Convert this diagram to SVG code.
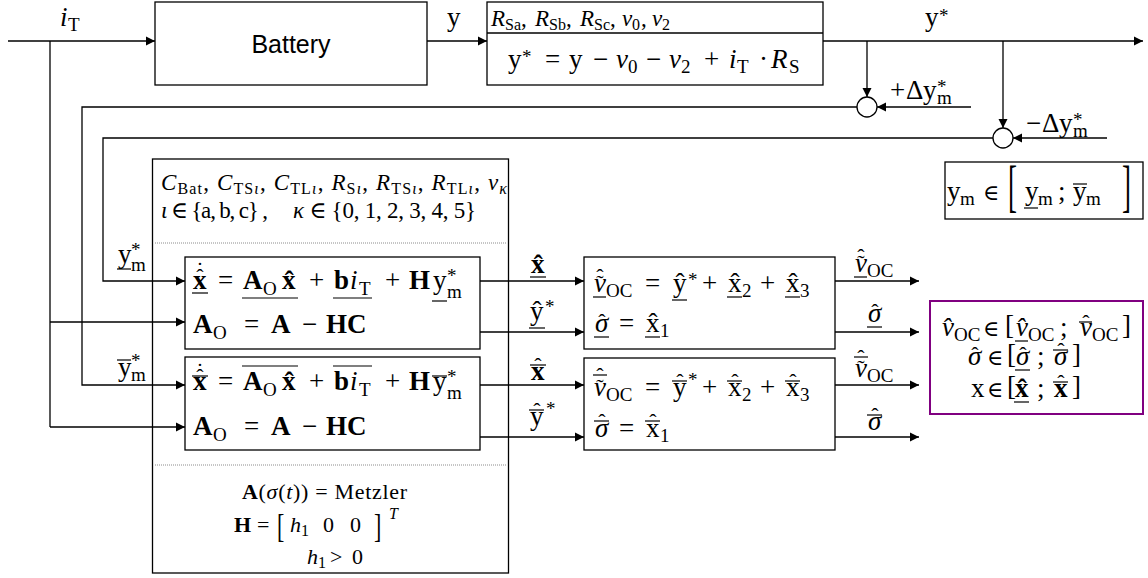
<svg xmlns="http://www.w3.org/2000/svg" width="1148" height="578" viewBox="0 0 1148 578">
<defs>
<style>
.t{font-family:"Liberation Serif","DejaVu Serif",serif;font-size:27px;fill:#000}
.i{font-style:italic}
.b{font-weight:bold}
.s{font-size:19px}
.p{font-size:16px}
.e{font-size:22px}
.a{font-size:22px;font-style:normal;font-weight:normal}
.bx{fill:#fff;stroke:#000;stroke-width:1.3}
.ln{fill:none;stroke:#000;stroke-width:1.3}
.ar{fill:none;stroke:#000;stroke-width:1.3;marker-end:url(#ah)}
.bar{stroke:#000;stroke-width:1.2}
.dt{stroke:#8c8c8c;stroke-width:1;stroke-dasharray:1 1}
.sans{font-family:"Liberation Sans",Arial,sans-serif;font-size:25px;fill:#000;text-anchor:middle}
</style>
<marker id="ah" markerUnits="userSpaceOnUse" markerWidth="10" markerHeight="10" refX="9" refY="5" orient="auto"><path d="M0,0.5 L9,5 L0,9.5 z" fill="#000"/></marker>
</defs>
<rect width="1148" height="578" fill="#fff"/>

<g id="parameter-box">
<rect class="bx" x="152.5" y="159" width="356" height="414"/>
<line class="dt" x1="155" y1="243" x2="506" y2="243"/>
<line class="dt" x1="155" y1="465" x2="506" y2="465"/>
<text class="t" style="font-size:23px" x="161" y="190" textLength="346" lengthAdjust="spacing"><tspan class="i">C</tspan><tspan class="p" dy="4">Bat</tspan><tspan dy="-4">, </tspan><tspan class="i">C</tspan><tspan class="p" dy="4">TS</tspan><tspan class="p i">ι</tspan><tspan dy="-4">, </tspan><tspan class="i">C</tspan><tspan class="p" dy="4">TL</tspan><tspan class="p i">ι</tspan><tspan dy="-4">, </tspan><tspan class="i">R</tspan><tspan class="p" dy="4">S</tspan><tspan class="p i">ι</tspan><tspan dy="-4">, </tspan><tspan class="i">R</tspan><tspan class="p" dy="4">TS</tspan><tspan class="p i">ι</tspan><tspan dy="-4">, </tspan><tspan class="i">R</tspan><tspan class="p" dy="4">TL</tspan><tspan class="p i">ι</tspan><tspan dy="-4">, </tspan><tspan class="i">v</tspan><tspan class="p i" dy="4">κ</tspan></text>
<text class="t" style="font-size:23px" x="161" y="218" textLength="107" lengthAdjust="spacing"><tspan class="i">ι</tspan> ∈ {a, b, c} ,</text>
<text class="t" style="font-size:23px" x="293" y="218" textLength="183" lengthAdjust="spacing"><tspan class="i">κ</tspan> ∈ {0, 1, 2, 3, 4, 5}</text>
<text class="t" style="font-size:22px" x="242" y="499" textLength="165" lengthAdjust="spacing"><tspan class="b">A</tspan>(<tspan class="i">σ</tspan>(<tspan class="i">t</tspan>)) = Metzler</text>
<text class="t" style="font-size:22px"><tspan class="b" x="234" y="532">H</tspan><tspan x="257" y="532">=</tspan><tspan class="i" x="290" y="532">h</tspan><tspan class="p" x="301" y="536">1</tspan><tspan x="323" y="532">0</tspan><tspan x="350" y="532">0</tspan><tspan class="p i" x="389" y="519">T</tspan></text>
<text class="t" style="font-size:22px" transform="translate(277,537) scale(1,1.55)">[</text>
<text class="t" style="font-size:22px" transform="translate(374,537) scale(1,1.55)">]</text>
<text class="t" style="font-size:22px"><tspan class="i" x="307" y="564">h</tspan><tspan class="p" x="318" y="568">1</tspan><tspan x="330" y="564">&gt;</tspan><tspan x="352" y="564">0</tspan></text>
</g>

<g id="connectors">
<path class="ar" d="M8,41 H155"/>
<path class="ln" d="M50,41 V427"/>
<path class="ar" d="M50,322 H185"/>
<path class="ar" d="M50,427 H185"/>
<path class="ar" d="M427,41 H487"/>
<path class="ar" d="M823,41 H1143"/>
<path class="ar" d="M867,41 V97"/>
<path class="ar" d="M1003,41 V128"/>
<path class="ar" d="M971,107 H877"/>
<path class="ar" d="M1107,138 H1013"/>
<path class="ar" d="M857,107 H82 V385 H185"/>
<path class="ar" d="M993,138 H103 V281 H185"/>
<path class="ar" d="M480,281 H584"/>
<path class="ar" d="M480,332 H584"/>
<path class="ar" d="M480,385 H584"/>
<path class="ar" d="M480,437 H584"/>
<path class="ar" d="M835,281 H919"/>
<path class="ar" d="M835,332 H919"/>
<path class="ar" d="M835,385 H919"/>
<path class="ar" d="M835,437 H919"/>
</g>

<g id="connector-labels">
<text class="t"><tspan class="i" x="60" y="26">i</tspan><tspan class="s" x="68" y="31">T</tspan></text>
<text class="t"><tspan x="447" y="26">y</tspan></text>
<text class="t"><tspan x="925" y="26">y</tspan><tspan class="s" x="939" y="22">*</tspan></text>
<text class="t"><tspan x="890" y="99">+</tspan><tspan x="906" y="99">Δ</tspan><tspan x="923" y="99">y</tspan><tspan class="s" x="937" y="93">*</tspan><tspan class="s" x="937" y="104">m</tspan></text>
<text class="t"><tspan x="1026" y="132">−</tspan><tspan x="1042" y="132">Δ</tspan><tspan x="1059" y="132">y</tspan><tspan class="s" x="1073" y="126">*</tspan><tspan class="s" x="1073" y="137">m</tspan></text>
<text class="t"><tspan x="118" y="263">y</tspan><tspan class="s" x="131" y="256">*</tspan><tspan class="s" x="131" y="271">m</tspan></text>
<line class="bar" x1="117" y1="269" x2="131" y2="269"/>
<text class="t"><tspan x="118" y="376">y</tspan><tspan class="s" x="131" y="367">*</tspan><tspan class="s" x="131" y="381">m</tspan></text>
<line class="bar" x1="117" y1="360" x2="131" y2="360"/>
<text class="t"><tspan class="b" x="531" y="273">x&#x302;</tspan></text>
<line class="bar" x1="530" y1="277" x2="546" y2="277"/>
<text class="t"><tspan x="530" y="320">y&#x302;</tspan><tspan class="s" x="545" y="313">*</tspan></text>
<line class="bar" x1="529" y1="328" x2="545" y2="328"/>
<text class="t"><tspan class="b" x="531" y="380">x</tspan><tspan class="a" x="534.3" y="373">ˆ</tspan></text>
<line class="bar" x1="530" y1="365" x2="546" y2="365"/>
<text class="t"><tspan x="530" y="425">y</tspan><tspan class="s" x="546" y="415">*</tspan><tspan class="a" x="533.3" y="418">ˆ</tspan></text>
<line class="bar" x1="529" y1="410" x2="544" y2="410"/>
<text class="t"><tspan class="i" x="855" y="272">v</tspan><tspan class="s" x="867" y="277">OC</tspan><tspan class="a" x="857.3" y="270">˜</tspan><tspan class="a" x="857.3" y="264">ˆ</tspan></text>
<line class="bar" x1="854" y1="277" x2="867" y2="277"/>
<text class="t"><tspan class="i" x="868" y="322">σ</tspan><tspan class="a" x="871.3" y="319">ˆ</tspan></text>
<line class="bar" x1="867" y1="327" x2="882" y2="327"/>
<text class="t"><tspan class="i" x="855" y="377">v</tspan><tspan class="s" x="867" y="382">OC</tspan><tspan class="a" x="857.3" y="375">˜</tspan><tspan class="a" x="857.3" y="365">ˆ</tspan></text>
<line class="bar" x1="854" y1="357" x2="868" y2="357"/>
<text class="t"><tspan class="i" x="868" y="430">σ</tspan><tspan class="a" x="871.3" y="423">ˆ</tspan></text>
<line class="bar" x1="867" y1="415" x2="882" y2="415"/>
</g>

<g id="battery">
<rect class="bx" x="155" y="2" width="272" height="83"/>
<text class="sans" x="291" y="53">Battery</text>
</g>

<g id="offset-correction">
<rect class="bx" x="487" y="2" width="336" height="83"/>
<line class="ln" x1="487" y1="33" x2="823" y2="33"/>
<text class="t" style="font-size:23px"><tspan class="i" x="491" y="26">R</tspan><tspan class="p" x="505" y="30">Sa</tspan><tspan x="521" y="26">,</tspan><tspan class="i" x="535" y="26">R</tspan><tspan class="p" x="549" y="30">Sb</tspan><tspan x="566" y="26">,</tspan><tspan class="i" x="580" y="26">R</tspan><tspan class="p" x="594" y="30">Sc</tspan><tspan x="610" y="26">,</tspan><tspan class="i" x="622" y="26">v</tspan><tspan class="p" x="632" y="30">0</tspan><tspan x="641" y="26">,</tspan><tspan class="i" x="652" y="26">v</tspan><tspan class="p" x="662" y="30">2</tspan></text>
<text class="t"><tspan x="508" y="68">y</tspan><tspan class="s" x="522" y="63">*</tspan><tspan x="545" y="68">=</tspan><tspan x="569" y="68">y</tspan><tspan x="593" y="68">−</tspan><tspan class="i" x="616" y="68">v</tspan><tspan class="s" x="628" y="73">0</tspan><tspan x="646" y="68">−</tspan><tspan class="i" x="669" y="68">v</tspan><tspan class="s" x="681" y="73">2</tspan><tspan x="704" y="68">+</tspan><tspan class="i" x="729" y="68">i</tspan><tspan class="s" x="737" y="73">T</tspan><tspan x="759" y="68">·</tspan><tspan class="i" x="771" y="68">R</tspan><tspan class="s" x="789" y="73">S</tspan></text>
</g>

<g id="sum-plus">
<circle class="bx" cx="867" cy="107" r="10"/>
</g>
<g id="sum-minus">
<circle class="bx" cx="1003" cy="138" r="10"/>
</g>

<g id="measurement-interval">
<rect class="bx" x="945" y="162" width="198" height="57"/>
<text class="t"><tspan x="947" y="200">y</tspan><tspan class="s" x="960" y="205">m</tspan><tspan class="e" x="983" y="200">∈</tspan><tspan x="1025" y="200">y</tspan><tspan class="s" x="1038" y="205">m</tspan><tspan x="1058" y="200">;</tspan><tspan x="1073" y="200">y</tspan><tspan class="s" x="1086" y="205">m</tspan></text>
<line class="bar" x1="1024" y1="208" x2="1038" y2="208"/>
<line class="bar" x1="1073" y1="184" x2="1087" y2="184"/>
<text class="t" transform="translate(1008,205) scale(1,2.1)">[</text>
<text class="t" transform="translate(1122,205) scale(1,2.1)">]</text>
</g>

<g id="observer-lower">
<rect class="bx" x="185" y="257" width="295" height="92"/>
<text class="t"><tspan class="b" x="193" y="289">x</tspan><tspan x="218" y="289">=</tspan><tspan class="b" x="243" y="289">A</tspan><tspan class="s" x="263" y="295">O</tspan><tspan class="b" x="282" y="289">x&#x302;</tspan><tspan x="309" y="289">+</tspan><tspan class="b" x="334" y="289">b</tspan><tspan class="i" x="350" y="289">i</tspan><tspan class="s" x="359" y="295">T</tspan><tspan x="385" y="289">+</tspan><tspan class="b" x="409" y="289">H</tspan><tspan x="433" y="289">y</tspan><tspan class="s" x="447" y="282">*</tspan><tspan class="s" x="447" y="298">m</tspan><tspan class="a" x="196.3" y="284">ˆ</tspan><tspan class="a" x="196.3" y="277">˙</tspan></text>
<line class="bar" x1="192" y1="293" x2="208" y2="293"/>
<line class="bar" x1="242" y1="298" x2="298" y2="298"/>
<line class="bar" x1="333" y1="298" x2="372" y2="298"/>
<line class="bar" x1="432" y1="301" x2="447" y2="301"/>
<text class="t"><tspan class="b" x="193" y="333">A</tspan><tspan class="s" x="213" y="339">O</tspan><tspan x="244" y="333">=</tspan><tspan class="b" x="271" y="333">A</tspan><tspan x="302" y="333">−</tspan><tspan class="b" x="326" y="333">HC</tspan></text>
</g>

<g id="observer-upper">
<rect class="bx" x="185" y="357" width="295" height="93"/>
<text class="t"><tspan class="b" x="193" y="390">x</tspan><tspan x="218" y="390">=</tspan><tspan class="b" x="243" y="390">A</tspan><tspan class="s" x="263" y="396">O</tspan><tspan class="b" x="282" y="390">x&#x302;</tspan><tspan x="309" y="390">+</tspan><tspan class="b" x="334" y="390">b</tspan><tspan class="i" x="350" y="390">i</tspan><tspan class="s" x="359" y="396">T</tspan><tspan x="385" y="390">+</tspan><tspan class="b" x="409" y="390">H</tspan><tspan x="433" y="390">y</tspan><tspan class="s" x="447" y="383">*</tspan><tspan class="s" x="447" y="399">m</tspan><tspan class="a" x="196.3" y="384">ˆ</tspan><tspan class="a" x="196.3" y="378">˙</tspan></text>
<line class="bar" x1="192" y1="376" x2="208" y2="376"/>
<line class="bar" x1="242" y1="366" x2="298" y2="366"/>
<line class="bar" x1="333" y1="366" x2="372" y2="366"/>
<line class="bar" x1="432" y1="376" x2="447" y2="376"/>
<text class="t"><tspan class="b" x="193" y="435">A</tspan><tspan class="s" x="213" y="441">O</tspan><tspan x="244" y="435">=</tspan><tspan class="b" x="271" y="435">A</tspan><tspan x="302" y="435">−</tspan><tspan class="b" x="326" y="435">HC</tspan></text>
</g>

<g id="output-lower">
<rect class="bx" x="584" y="257" width="251" height="92"/>
<text class="t"><tspan class="i" x="594" y="292">v</tspan><tspan class="s" x="606" y="297">OC</tspan><tspan x="645" y="292">=</tspan><tspan x="673" y="292">y&#x302;</tspan><tspan class="s" x="688" y="286">*</tspan><tspan x="702" y="292">+</tspan><tspan x="728" y="292">x&#x302;</tspan><tspan class="s" x="742" y="297">2</tspan><tspan x="760" y="292">+</tspan><tspan x="786" y="292">x&#x302;</tspan><tspan class="s" x="800" y="297">3</tspan><tspan class="a" x="596.3" y="290">˜</tspan><tspan class="a" x="596.3" y="284">ˆ</tspan></text>
<line class="bar" x1="593" y1="297" x2="606" y2="297"/>
<line class="bar" x1="672" y1="300" x2="687" y2="300"/>
<line class="bar" x1="727" y1="297" x2="742" y2="297"/>
<line class="bar" x1="785" y1="297" x2="800" y2="297"/>
<text class="t"><tspan class="i" x="595" y="332">σ</tspan><tspan x="619" y="332">=</tspan><tspan x="646" y="332">x&#x302;</tspan><tspan class="s" x="660" y="337">1</tspan><tspan class="a" x="598.3" y="329">ˆ</tspan></text>
<line class="bar" x1="594" y1="337" x2="609" y2="337"/>
<line class="bar" x1="645" y1="337" x2="660" y2="337"/>
</g>

<g id="output-upper">
<rect class="bx" x="584" y="358" width="251" height="92"/>
<text class="t"><tspan class="i" x="594" y="396">v</tspan><tspan class="s" x="606" y="401">OC</tspan><tspan x="645" y="396">=</tspan><tspan x="673" y="396">y</tspan><tspan class="s" x="688" y="386">*</tspan><tspan x="702" y="396">+</tspan><tspan x="728" y="396">x</tspan><tspan class="s" x="742" y="401">2</tspan><tspan x="760" y="396">+</tspan><tspan x="786" y="396">x</tspan><tspan class="s" x="800" y="401">3</tspan><tspan class="a" x="596.3" y="394">˜</tspan><tspan class="a" x="596.3" y="383">ˆ</tspan><tspan class="a" x="676.3" y="389">ˆ</tspan><tspan class="a" x="731.3" y="389">ˆ</tspan><tspan class="a" x="789.3" y="389">ˆ</tspan></text>
<line class="bar" x1="593" y1="375" x2="607" y2="375"/>
<line class="bar" x1="672" y1="381" x2="687" y2="381"/>
<line class="bar" x1="727" y1="381" x2="742" y2="381"/>
<line class="bar" x1="785" y1="381" x2="800" y2="381"/>
<text class="t"><tspan class="i" x="595" y="437">σ</tspan><tspan x="619" y="437">=</tspan><tspan x="646" y="437">x</tspan><tspan class="s" x="660" y="442">1</tspan><tspan class="a" x="598.3" y="429">ˆ</tspan><tspan class="a" x="649.3" y="429">ˆ</tspan></text>
<line class="bar" x1="594" y1="421" x2="609" y2="421"/>
<line class="bar" x1="645" y1="421" x2="660" y2="421"/>
</g>

<g id="result-intervals">
<rect x="930" y="301" width="213" height="113" fill="#fff" stroke="#800080" stroke-width="2"/>
<text class="t"><tspan class="i" x="942" y="336">v&#x302;</tspan><tspan class="s" x="954" y="341">OC</tspan><tspan class="e" x="983" y="336">∈</tspan><tspan x="1005" y="334">[</tspan><tspan class="i" x="1016" y="336">v&#x302;</tspan><tspan class="s" x="1028" y="341">OC</tspan><tspan x="1060" y="336">;</tspan><tspan class="i" x="1080" y="336">v</tspan><tspan class="s" x="1092" y="341">OC</tspan><tspan x="1122" y="334">]</tspan><tspan class="a" x="1082.3" y="330">ˆ</tspan></text>
<line class="bar" x1="1015" y1="341" x2="1028" y2="341"/>
<line class="bar" x1="1079" y1="322" x2="1092" y2="322"/>
<text class="t"><tspan class="i" x="968" y="365">σ</tspan><tspan class="e" x="987" y="365">∈</tspan><tspan x="1007" y="363">[</tspan><tspan class="i" x="1016" y="365">σ</tspan><tspan x="1037" y="365">;</tspan><tspan class="i" x="1054" y="365">σ</tspan><tspan x="1072" y="363">]</tspan><tspan class="a" x="971.3" y="362">ˆ</tspan><tspan class="a" x="1019.3" y="362">ˆ</tspan><tspan class="a" x="1057.3" y="358">ˆ</tspan></text>
<line class="bar" x1="1015" y1="370" x2="1030" y2="370"/>
<line class="bar" x1="1053" y1="350" x2="1068" y2="350"/>
<text class="t"><tspan x="971" y="397">x</tspan><tspan class="e" x="987" y="397">∈</tspan><tspan x="1007" y="395">[</tspan><tspan class="b" x="1015" y="397">x&#x302;</tspan><tspan x="1037" y="397">;</tspan><tspan class="b" x="1054" y="397">x</tspan><tspan x="1072" y="395">]</tspan><tspan class="a" x="1057.3" y="390">ˆ</tspan></text>
<line class="bar" x1="1014" y1="402" x2="1029" y2="402"/>
<line class="bar" x1="1053" y1="382" x2="1068" y2="382"/>
</g>
</svg>
